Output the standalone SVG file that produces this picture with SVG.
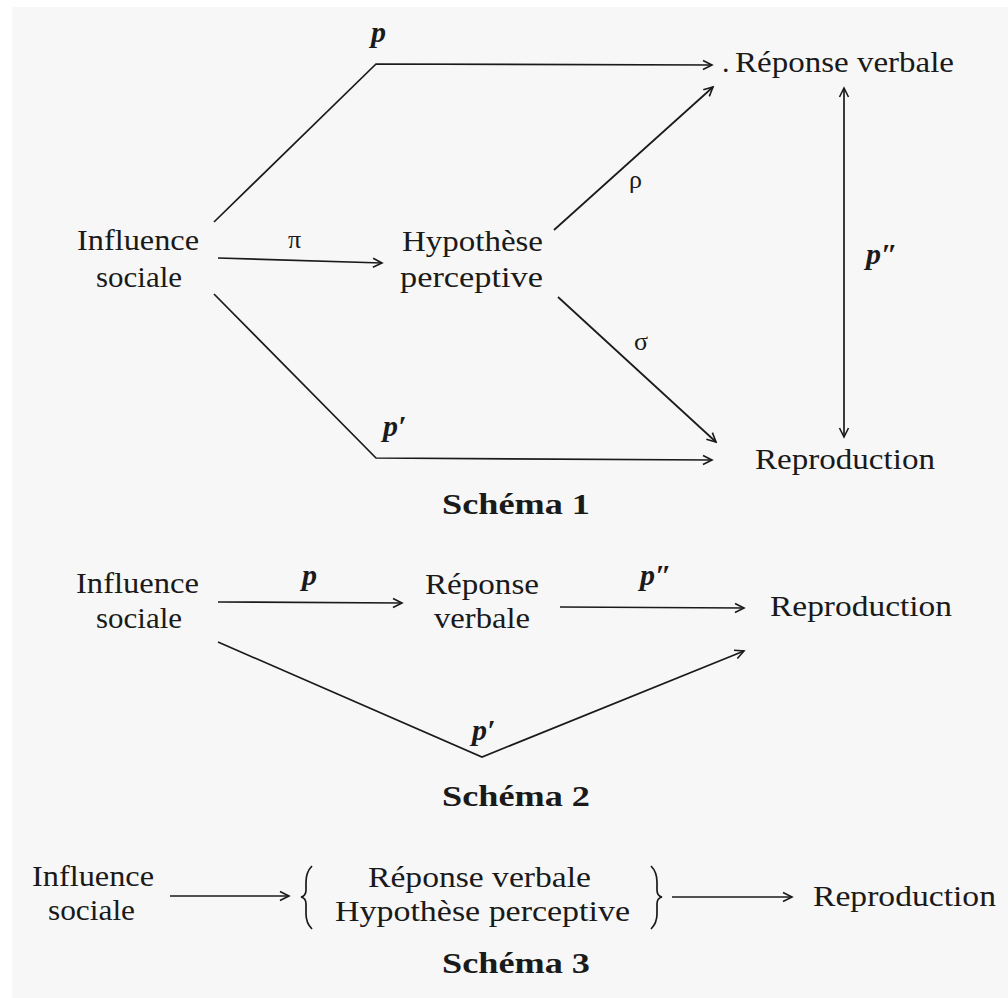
<svg xmlns="http://www.w3.org/2000/svg" width="1008" height="998" viewBox="0 0 1008 998">
<defs>
<style>
.t{font-family:"Liberation Serif","Times New Roman",serif;font-size:30px;fill:#1a1a1a}
.m{font-family:"Liberation Serif","Times New Roman",serif;font-size:30px;font-style:italic;font-weight:bold;fill:#1a1a1a}
.g{font-family:"Liberation Serif","Times New Roman",serif;font-size:26px;fill:#1a1a1a}
.h{font-family:"Liberation Serif","Times New Roman",serif;font-size:30px;font-weight:bold;fill:#1a1a1a}
.c{fill:none;stroke:#1a1a1a;stroke-width:1.7}
</style>
<marker id="ah" viewBox="-10 -6 12 12" markerWidth="12" markerHeight="12" refX="0" refY="0" orient="auto" markerUnits="userSpaceOnUse">
<path d="M-9,-4.5 L0,0 L-9,4.5" fill="none" stroke="#1a1a1a" stroke-width="1.6"/>
</marker>
<marker id="as" viewBox="-10 -6 12 12" markerWidth="12" markerHeight="12" refX="0" refY="0" orient="auto-start-reverse" markerUnits="userSpaceOnUse">
<path d="M-9,-4.5 L0,0 L-9,4.5" fill="none" stroke="#1a1a1a" stroke-width="1.6"/>
</marker>
</defs>
<rect width="1008" height="998" fill="#ffffff"/>
<rect x="12" y="7" width="996" height="991" fill="#f7f7f7"/>

<g id="connectors">
<!-- Schema 1 -->
<polyline class="c" points="214,222 376,64 712,65" marker-end="url(#ah)"/>
<line class="c" x1="218" y1="258" x2="382" y2="263" marker-end="url(#ah)"/>
<line class="c" x1="554" y1="230" x2="713" y2="87" marker-end="url(#ah)"/>
<line class="c" x1="558" y1="297" x2="716" y2="442" marker-end="url(#ah)"/>
<polyline class="c" points="214,294 376,458 712,460" marker-end="url(#ah)"/>
<line class="c" x1="844" y1="88" x2="844" y2="437" marker-start="url(#as)" marker-end="url(#as)"/>
<!-- Schema 2 -->
<line class="c" x1="218" y1="602" x2="402" y2="603" marker-end="url(#ah)"/>
<line class="c" x1="560" y1="607" x2="744" y2="608" marker-end="url(#ah)"/>
<polyline class="c" points="218,642 482,757 744,651" marker-end="url(#ah)"/>
<!-- Schema 3 -->
<line class="c" x1="170" y1="896" x2="289" y2="896" marker-end="url(#ah)"/>
<line class="c" x1="672" y1="897" x2="792" y2="897" marker-end="url(#ah)"/>
<path class="c" stroke-width="1.3" d="M312,866 Q306,872 306,882 L306,890 Q306,896 301,897 Q306,898 306,904 L306,914 Q306,923 312,929"/>
<path class="c" stroke-width="1.3" d="M651,866 Q657,872 657,882 L657,890 Q657,896 662,897 Q657,898 657,904 L657,914 Q657,923 651,929"/>
</g>

<!-- Schema 1 nodes -->
<g id="s1-influence">
<text class="t" x="77" y="250" textLength="122" lengthAdjust="spacingAndGlyphs">Influence</text>
<text class="t" x="96" y="287" textLength="86" lengthAdjust="spacingAndGlyphs">sociale</text>
</g>
<g id="s1-hypothese">
<text class="t" x="402" y="251" textLength="141" lengthAdjust="spacingAndGlyphs">Hypothèse</text>
<text class="t" x="400" y="287" textLength="143" lengthAdjust="spacingAndGlyphs">perceptive</text>
</g>
<g id="s1-reponse">
<text class="t" x="722" y="72">.</text>
<text class="t" x="735" y="72" textLength="219" lengthAdjust="spacingAndGlyphs">Réponse verbale</text>
</g>
<g id="s1-reproduction">
<text class="t" x="755" y="469" textLength="180" lengthAdjust="spacingAndGlyphs">Reproduction</text>
</g>
<g id="s1-labels">
<text class="m" x="371" y="42">p</text>
<text class="g" x="288" y="248">π</text>
<text class="g" x="629" y="188">ρ</text>
<text class="g" x="634" y="350">σ</text>
<text class="m" x="383" y="436">p′</text>
<text class="m" x="866" y="264">p″</text>
<text class="h" x="442" y="514" textLength="148" lengthAdjust="spacingAndGlyphs">Schéma 1</text>
</g>

<!-- Schema 2 nodes -->
<g id="s2-influence">
<text class="t" x="76" y="593" textLength="123" lengthAdjust="spacingAndGlyphs">Influence</text>
<text class="t" x="96" y="628" textLength="86" lengthAdjust="spacingAndGlyphs">sociale</text>
</g>
<g id="s2-reponse">
<text class="t" x="425" y="594" textLength="114" lengthAdjust="spacingAndGlyphs">Réponse</text>
<text class="t" x="434" y="628" textLength="96" lengthAdjust="spacingAndGlyphs">verbale</text>
</g>
<g id="s2-reproduction">
<text class="t" x="770" y="616" textLength="182" lengthAdjust="spacingAndGlyphs">Reproduction</text>
</g>
<g id="s2-labels">
<text class="m" x="302" y="585">p</text>
<text class="m" x="640" y="585">p″</text>
<text class="m" x="472" y="740">p′</text>
<text class="h" x="442" y="806" textLength="148" lengthAdjust="spacingAndGlyphs">Schéma 2</text>
</g>

<!-- Schema 3 nodes -->
<g id="s3-influence">
<text class="t" x="32" y="886" textLength="122" lengthAdjust="spacingAndGlyphs">Influence</text>
<text class="t" x="48" y="920" textLength="87" lengthAdjust="spacingAndGlyphs">sociale</text>
</g>
<g id="s3-middle">
<text class="t" x="368" y="887" textLength="223" lengthAdjust="spacingAndGlyphs">Réponse verbale</text>
<text class="t" x="335" y="921" textLength="295" lengthAdjust="spacingAndGlyphs">Hypothèse perceptive</text>
</g>
<g id="s3-reproduction">
<text class="t" x="813" y="906" textLength="183" lengthAdjust="spacingAndGlyphs">Reproduction</text>
</g>
<g id="s3-labels">
<text class="h" x="442" y="973" textLength="148" lengthAdjust="spacingAndGlyphs">Schéma 3</text>
</g>
</svg>
